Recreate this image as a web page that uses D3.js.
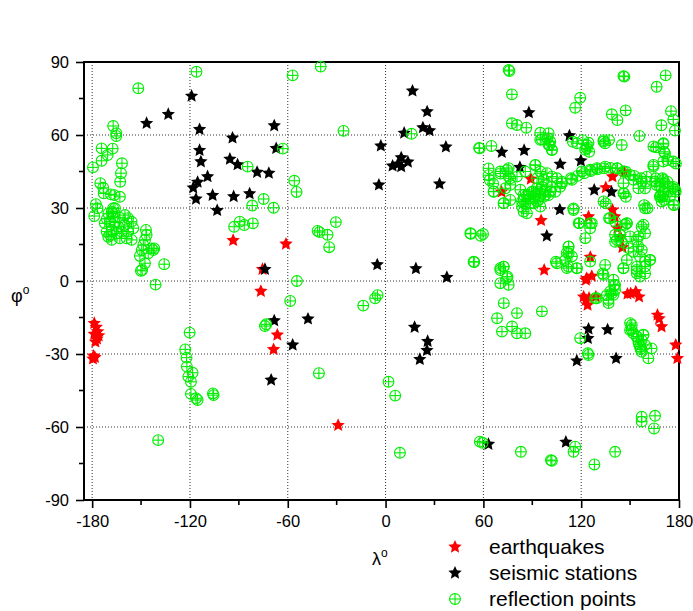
<!DOCTYPE html>
<html><head><meta charset="utf-8">
<script src="https://cdn.jsdelivr.net/npm/d3@7"></script>
<style>
html,body{margin:0;padding:0;background:#fff;}
text{font-family:Arial,"Liberation Sans",sans-serif;}
</style></head>
<body><svg id="chart" width="693" height="611"></svg>
<script>
// ---- data (longitude λ, latitude φ in degrees) ----
const xTicks = [-180, -120, -60, 0, 60, 120, 180];
const yTicks = [-90, -60, -30, 0, 30, 60, 90];
const legendLabels = ["earthquakes", "seismic stations", "reflection points"];

const earthquakes = [
 [-178.7,-17.4],[-177.5,-19],[-176.6,-20.8],[-178.7,-21.8],[-177,-23.8],[-176,-22.5],[-178,-25],
 [-179.1,-30.8],[-178.3,-31.4],[-179.5,-32],
 [-93.5,16.7],[-75.5,4.8],[-61.1,15.2],[-76.5,-4.2],[-66.4,-22.2],[-68.7,-28.1],[-29.1,-59.3],
 [89.1,41.9],[71.1,36.6],[135.1,38.4],[139.2,42.9],[146.3,44.8],[95.4,24.9],[124.5,26.4],
 [139.2,29.2],[140.6,26.4],[142.2,21.7],[143.9,18.2],[145.3,13.8],[125.6,9.8],[97.3,4.5],
 [123.4,1.1],[126.5,2],[122.9,0.4],[122.9,-7.8],[121.5,-6.5],[123.9,-9.9],[124.8,-7],[129,-6.5],
 [148.4,-5.3],[153.5,-4.4],[155.5,-6.5],[150.4,-5.1],[166.8,-14],[169.3,-18.8],[167.8,-15.5],
 [178,-26.3],[179,-31.8]
];

const stations = [
 [-119,76],[-133.3,68.5],[-146.6,64.8],[-114.1,62.3],[-93.9,58.8],[-68.3,63.8],[-67.1,54.5],
 [-114.1,53.7],[-113.3,49],[-95.5,50.1],[-90.8,47.8],[-78.8,44.7],[-71.6,44.3],[-109.2,42.9],
 [-115.3,40.6],[-118,38.3],[-106.1,35.2],[-93.2,34.7],[-83.4,35.9],[-116.3,33.7],[-103.3,29],[-74,4.8],
 [16.5,78.1],[25.5,69.6],[22.9,63],[27,61.8],[11.4,60.8],[-2.9,55.5],[37,55.1],[9.6,50.7],
 [4.3,47.3],[9.6,47],[13.7,48.9],[7.5,48],[-4.1,39.5],[33.1,39.9],[-5.1,6.7],[18.6,5.1],[37.6,1.5],
 [-68.3,-16.3],[-47.6,-15.6],[-57,-26.3],[-70.2,-40.7],[17.8,-19],[25.8,-24.8],[25.4,-28.5],[21,-32.2],
 [87.9,69.2],[112.8,59.7],[71.3,52.9],[85,53.7],[82.4,46.7],[107.1,48],[119.8,49.4],[128,37.4],
 [138.6,36.6],[106.9,29.3],[98.9,18.5],
 [124.5,-19.7],[124.1,-23.6],[136.2,-20],[117.3,-32.8],[141.4,-31.8],[63.1,-67.1],[110.6,-66.2]
];

const reflections = [
 // western Pacific / Alaska / Hawaii
 [-116,86],[-151.7,79.2],[-167.1,63.7],[-165.2,60.7],[-165.2,59.6],[-174.2,54.5],[-167.4,54.4],
 [-170.5,51.8],[-174.2,49.4],[-161.7,48.4],[-179.5,46.7],[-162.3,44.3],[-162.8,40.8],[-175,40.2],
 [-173.2,38.3],[-172.9,36],[-168.5,35.6],[-166.4,35.3],[-163,34.6],[-177.7,31.6],[-176.7,29.9],
 [-178.7,26.7],[-167.1,29.9],[-167.4,27.8],
 [-170.1,27.8],[-166,29.9],[-167.1,26.4],[-169.1,24.4],[-168,21],[-170.1,18.2],[-168,16.9],
 [-164,22.3],[-165,19.6],[-161.9,20.3],[-159.9,27.1],[-157.9,25.8],[-155.8,24.4],[-154.8,21.7],
 [-157.9,20.3],[-158.8,17.5],[-155.8,16.9],[-163,17.5],[-171.1,20.3],[-172.2,23.7],[-169,19],
 [-166,24],[-163,26],[-160,23],[-171,25.5],[-168,28.5],
 [-147,21],[-146.6,18.9],[-147.6,16.9],[-148.6,14.8],[-149.6,12.7],[-143.5,13.4],[-142.5,12.7],
 [-145.6,11.4],[-150.7,10.3],[-147.6,7.3],[-149.3,4.5],[-141.1,-1.5],[-135.8,6.9],[-150.1,4.2],[-141.9,13.4],
 // eastern Pacific / Americas
 [-120.2,-21.2],[-122.9,-28.1],[-122.1,-31.5],[-121.9,-35.2],[-118.4,-37.7],[-121,-39.3],[-119.4,-41.4],
 [-119.4,-46.4],[-116.3,-48.2],[-115.3,-48.9],[-105.9,-46.2],[-105.5,-46.9],[-139.5,-65.4],
 [-73.2,-17.8],[-74,-18.5],
 [-92.9,22.3],[-89.4,24.4],[-86.7,23],[-81.4,23.7],[-84.6,47],[-74.8,33.7],[-68.7,30.1],[-81.8,31],
 // Atlantic
 [-54.4,0],[-58.5,-8.2],[-40.9,-37.9],[-13.7,-10.1],[-6.4,-7.1],[-4.9,-5.8],[1.8,-41.4],[5.9,-47.1],
 [8.8,-70.6],[57.8,-66],[59.5,-66.5],
 [-39.8,88.1],[-57,84.5],[-25.8,61.7],[-63,54.4],[-56,41.2],[-54.6,36.6],
 [-41.7,20.6],[-40.5,20.1],[-35.6,19],[-30.5,24.2],[-34.6,13.9],[15.9,60.5],[57.4,54.7],
 [52.3,19.4],[58.4,18.6],[54.4,7.8],
 // Asia
 [75.5,86.7],[76,86.3],[145.9,84.2],[146.5,84],[171.8,84.5],[166.3,79.8],[77.5,76.7],[119.4,75.3],
 [116.3,71.2],[147.3,70.1],[138.8,68.5],[142.2,66.1],[175.1,69.8],[176.5,66.4],[177.5,61.8],
 [169.2,64],[155.7,59.6],[77.5,64.8],[80.6,64.1],[86.3,63],[94.9,60.9],[100,60.7],[99.4,58.6],
 [95.9,58.2],[100.6,55.9],[102,53.8],[114.9,57.2],[121,57.9],[124.5,56.8],[123.5,54.5],[124.9,53.1],
 [133.7,57.9],[137.1,57.9],[57.7,54.5],[64.9,55.5],[165.9,54.9],[170.4,56.3],[170.8,53.1],
 [172.8,49.7],[178.1,48.3],[164.3,47],[63.2,46.3],[63.2,43.5],[63.9,41.5],[70.4,44.2],[74.5,45.6],
 [76.5,42.2],[91.8,47.6],[66.3,36.7],[72.4,31.9],[86.7,27.8],
 [85.7,31.6],[84.7,33.3],[83.7,30.5],[86.7,35.3],[89.8,36.7],[92.8,38.1],[95.9,38.7],[99,39.4],
 [102,38.7],[101,36.7],[97.9,36.7],[94.9,36],[91.8,35.3],[88.8,34],[90.8,31.9],[93.9,33.3],
 [96.9,34.6],[100,35.3],[104.1,36.7],[107.1,38.7],[108.1,40.8],
 [100,56],[102.1,53.9],[101,57.3],[94.9,58],[117.4,56.6],[123.5,55.9],[122.5,53.9],[133.7,57.3],
 [134.7,56.6],[144.9,55.9],[164.3,55.3],[170.4,56.6],[171.4,52.5],[176.5,49.1],[170.4,49.1],[164.3,47.7],
 [70.4,45],[75.5,46.4],[75.5,42.9],[80.6,42.9],[85.7,45],[91.9,47.7],[94.9,45],[99,44.3],[102.1,42.9],
 [97,41.6],[92.9,42.2],[105.1,42.2],[108.2,40.2],[114.3,41.6],[120.4,45],[125.5,45.7],[129.6,46.4],
 [134.7,47],[141.9,46.4],[145.9,45],[150,43.6],[145.9,40.2],[152.1,41.6],[157.2,40.9],[160.2,42.9],
 [165.3,40.9],[171.4,40.2],[177.6,37.5],
 [113.7,42.2],[117.8,43.2],[121.8,44.3],[125.9,45.2],[130,45.9],[134.1,46.3],[138,46.5],[142.3,46.3],
 [147.4,44.9],[152.5,43.2],[156.6,42.2],[159.6,40.8],[165.8,42.2],[169.9,42.2],[172.9,40.8],
 [176,38.1],[178,36.7],[168.8,35.3],[169.9,34.6],[170.9,33.3],[177,31.2],[158.6,31.2],[160.7,29.9],
 [66.3,36.8],[66,40],[73.5,38.1],[76.5,39.5],[82.7,37.5],[84.7,35.4],[83.7,32.7],[87.8,35.4],
 [90.8,36.8],[94.9,37.5],[98,35.4],[92.9,32.7],[94.9,30.6],[88.8,32],[84.7,28.5],[72.5,32],[76.5,33.3],
 [115.3,29.2],[133.7,32.7],[145.9,36.1],[155.1,38.1],[159.2,38.1],[168.4,34.7],[170.4,35.4],
 [169.4,32.7],[174.5,34.7],[176.5,31.3],[159.2,29.9],[135.1,31.9],[146.3,36],[147.4,34.6],
 [166.3,39.4],[170.4,41.5],[168.3,38.7],[170.4,36.7],[176.5,38.7],[168.3,34.6],
 [118.4,23.8],[125.5,23.8],[125.5,21.7],[137.8,25.8],[140.8,24.4],[147,23.1],[148,23.8],[158.2,23.1],
 [159.2,19.6],[155.1,18.3],[154.1,16.9],[155.1,14.2],[157.2,12.8],[150,18.3],[140.8,19],[143.9,19],
 [141.9,16.9],[149,13.5],[122.5,17.6],[112.3,14.2],[112.3,11.4],[114.3,10.1],[105.1,7.3],[111.2,5.3],
 [117.4,5.3],[125.5,8],[134.7,6.6],[145.9,5.3],[154.1,5.9],[159.2,8],[162.3,8.7],[154.1,3.2],
 [156.1,1.8],[133.7,2.5],[139.8,0.5],[140.8,-1.6],[137.8,-4.3],[139.8,-5.7],[136.8,-9.1],[129.6,-7.1],
 [70.4,5.3],[72.5,5.9],[74.5,1.2],[70.4,-0.9],[75.5,-1.6],[72.5,-9.1],[80.6,-13.2],[95.9,-12.5],
 [68.4,-15.3],[71.4,-20.8],[77.6,-18.7],[80.6,-21.5],[85.7,-21.5],[150,-17.3],[151,-20.1],
 [154.1,-22.8],[158.2,-22.1],[119.4,-23.5],
 [119,23.7],[126.5,23.7],[112.2,14.1],[111.2,11.6],[110.2,8.6],[112.2,5.9],[117.3,5.2],[104.5,7.9],
 [54,7.9],[52,19.6],[59.8,19.3],[70.4,4.5],[72.4,5.9],[74.8,1.8],[133.2,3.1],[145.9,5.2],[154.1,4.5],
 [159.2,3.1],[159.2,5.9],[162.2,8.6],[152,12],[156.1,10],[148,8.6],[148,23.7],[157.1,22.3],
 [143.9,18.9],[140.8,16.1],[144.9,16.1],[137.1,25.8],[115.3,29.8],
 // south-west Pacific / Antarctica
 [124.1,-29.7],[124.5,-30.4],[128.6,-7.1],[138.8,-5.1],[136.7,-7.8],[135.7,-5.8],[140.2,-1.7],[140.8,-3.7],
 [151,-18.1],[150,-20.2],[152,-21.5],[154.1,-22.9],[155.1,-25],[156.1,-27],[157.1,-29.1],[159.2,-26.3],
 [161.2,-31.8],[163.2,-27.7],[158.1,-22.2],[157.1,-24.3],[155.5,-26],[156.5,-28],
 [157.1,-55.8],[157.1,-57.8],[165.3,-55.4],[164.7,-60.6],[83,-70.2],[101.4,-73.6],[102,-73.9],
 [116.3,-68.1],[115.3,-70.2],[128.1,-75.4],[140.8,-70.2]
];

// ---- layout ----
const svg = d3.select("#chart");
const x = d3.scaleLinear().domain([-185, 180]).range([84, 679]);
const y = d3.scaleLinear().domain([-90, 90]).range([500, 62]);

// grid
const gridX = xTicks.filter(v => v < 180);
const gridY = yTicks.filter(v => v > -90 && v < 90);
svg.append("g").selectAll("line").data(gridX).join("line")
  .attr("x1", d => x(d)).attr("x2", d => x(d)).attr("y1", y(90)).attr("y2", y(-90))
  .attr("stroke", "#333").attr("stroke-width", 1).attr("stroke-dasharray", "1,2");
svg.append("g").selectAll("line").data(gridY).join("line")
  .attr("x1", x(-185)).attr("x2", x(180)).attr("y1", d => y(d)).attr("y2", d => y(d))
  .attr("stroke", "#333").attr("stroke-width", 1).attr("stroke-dasharray", "1,2");

// axes
const xAxis = d3.axisBottom(x).tickValues(xTicks).tickSize(8).tickPadding(7).tickFormat(d3.format("d"));
const yAxis = d3.axisLeft(y).tickValues(yTicks).tickSize(8).tickPadding(7).tickFormat(d3.format("d"));
const gx = svg.append("g").attr("transform", `translate(0,${y(-90)})`).call(xAxis);
const gy = svg.append("g").attr("transform", `translate(${x(-185)},0)`).call(yAxis);
[gx, gy].forEach(g => {
  g.select(".domain").remove();
  g.selectAll(".tick line").attr("stroke", "#000").attr("stroke-width", 1.6);
  g.selectAll(".tick text").attr("font-size", 16.5).attr("fill", "#000")
    .attr("font-family", "Arial, 'Liberation Sans', sans-serif").text(d => d < 0 ? "-" + Math.abs(d) : d);
});
// minor ticks
const minorX = [-150, -90, -30, 30, 90, 150];
const minorY = [-75, -45, -15, 15, 45, 75];
svg.append("g").selectAll("line").data(minorX).join("line")
  .attr("x1", d => x(d)).attr("x2", d => x(d)).attr("y1", y(-90)).attr("y2", y(-90) + 5)
  .attr("stroke", "#000").attr("stroke-width", 1.6);
svg.append("g").selectAll("line").data(minorY).join("line")
  .attr("x1", x(-185)).attr("x2", x(-185) - 5).attr("y1", d => y(d)).attr("y2", d => y(d))
  .attr("stroke", "#000").attr("stroke-width", 1.6);

// frame
svg.append("rect").attr("x", x(-185)).attr("y", y(90))
  .attr("width", x(180) - x(-185)).attr("height", y(-90) - y(90))
  .attr("fill", "none").attr("stroke", "#000").attr("stroke-width", 2);

// symbols
function starPath(R, r) {
  let p = "";
  for (let i = 0; i < 10; i++) {
    const a = -Math.PI / 2 + i * Math.PI / 5;
    const rr = i % 2 === 0 ? R : r;
    p += (i === 0 ? "M" : "L") + (rr * Math.cos(a)).toFixed(2) + "," + (rr * Math.sin(a)).toFixed(2);
  }
  return p + "Z";
}
const STAR = starPath(7, 3.3);
const GREEN = "#00ee00";
function crossCircle(g) {
  g.append("circle").attr("r", 5.4).attr("fill", "none").attr("stroke", GREEN).attr("stroke-width", 1.1);
  g.append("line").attr("x1", -5.4).attr("x2", 5.4).attr("stroke", GREEN).attr("stroke-width", 1.1);
  g.append("line").attr("y1", -5.4).attr("y2", 5.4).attr("stroke", GREEN).attr("stroke-width", 1.1);
}

svg.append("g").selectAll("path").data(earthquakes).join("path")
  .attr("d", STAR).attr("fill", "#ff0000")
  .attr("transform", d => `translate(${x(d[0])},${y(d[1])})`);
svg.append("g").selectAll("path").data(stations).join("path")
  .attr("d", STAR).attr("fill", "#000")
  .attr("transform", d => `translate(${x(d[0])},${y(d[1])})`);
svg.append("g").selectAll("g").data(reflections).join("g")
  .attr("transform", d => `translate(${x(d[0])},${y(d[1])})`)
  .each(function () { crossCircle(d3.select(this)); });

// axis titles
const tx = svg.append("text").attr("x", 372).attr("y", 565).attr("font-size", 18).attr("fill", "#000");
tx.append("tspan").text("λ");
tx.append("tspan").attr("dy", -8).attr("font-size", 12).text("o");
const ty = svg.append("text").attr("x", 11).attr("y", 302).attr("font-size", 18).attr("fill", "#000");
ty.append("tspan").text("φ");
ty.append("tspan").attr("dy", -8).attr("font-size", 12).text("o");

// legend
const lg = svg.append("g");
legendLabels.forEach((lab, i) => {
  const yy = 547 + i * 26;
  const sym = lg.append("g").attr("transform", `translate(455,${yy})`);
  if (i === 0) sym.append("path").attr("d", STAR).attr("fill", "#ff0000");
  else if (i === 1) sym.append("path").attr("d", STAR).attr("fill", "#000");
  else crossCircle(sym);
  lg.append("text").attr("x", 489).attr("y", yy + 7).attr("font-size", 21).attr("fill", "#000").text(lab);
});
</script></body></html>
